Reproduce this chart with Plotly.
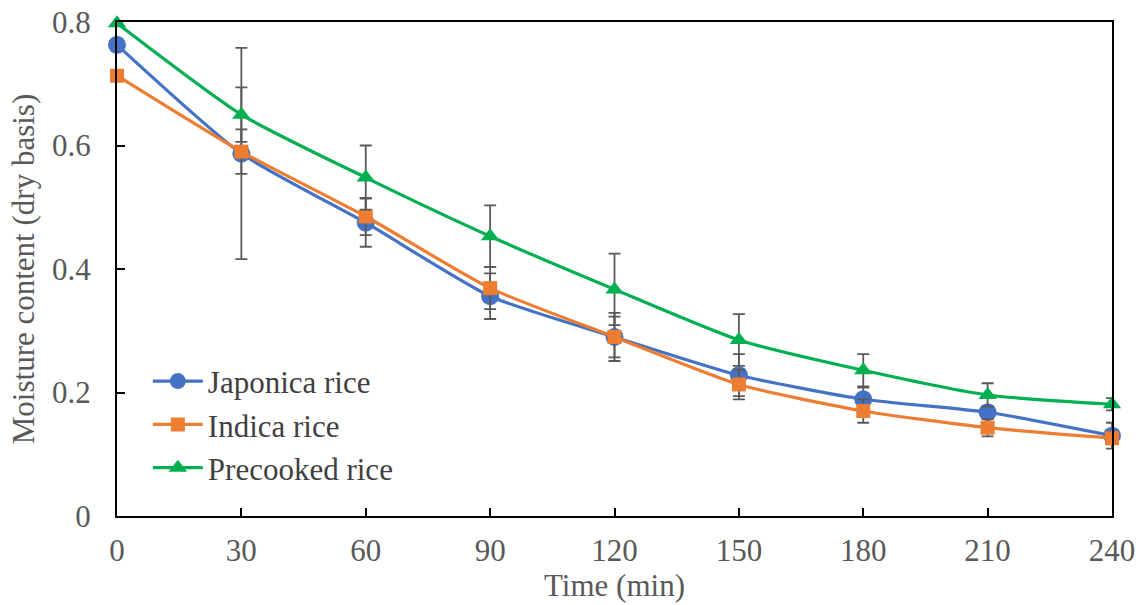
import plotly.graph_objects as go

time_min = [0, 30, 60, 90, 120, 150, 180, 210, 240]
japonica = [0.763, 0.587, 0.475, 0.356, 0.290, 0.228, 0.189, 0.168, 0.130]
japonica_err = [0.0, 0.171, 0.039, 0.037, 0.039, 0.034, 0.019, 0.010, 0.021]
indica = [0.713, 0.590, 0.485, 0.369, 0.290, 0.213, 0.170, 0.143, 0.126]
indica_err = [0.0, 0.036, 0.030, 0.034, 0.033, 0.024, 0.019, 0.014, 0.010]
precooked = [0.798, 0.650, 0.548, 0.453, 0.367, 0.285, 0.236, 0.196, 0.181]
precooked_err = [0.0, 0.044, 0.052, 0.050, 0.058, 0.042, 0.026, 0.019, 0.010]

y_ticks = [0, 0.2, 0.4, 0.6, 0.8]
y_tick_text = ["0", "0.2", "0.4", "0.6", "0.8"]
x_ticks = time_min

series = [
    ("Japonica rice", japonica, japonica_err, "#4472C4", "circle", 18),
    ("Indica rice", indica, indica_err, "#ED7D31", "square", 14),
    ("Precooked rice", precooked, precooked_err, "#00B050", "triangle-up", 16),
]

fig = go.Figure()
for name, vals, errs, color, sym, size in series:
    fig.add_trace(go.Scatter(
        x=time_min, y=vals, name=name, mode="lines+markers",
        line=dict(color=color, width=3.2, shape="spline", smoothing=0.6),
        marker=dict(color=color, symbol=sym, size=size),
        error_y=dict(type="data", array=errs, visible=True,
                     color="#595959", thickness=1.8, width=6),
        cliponaxis=False,
    ))

font_family = "Liberation Serif, Times New Roman, serif"
FS = 31
fig.update_layout(
    width=1141, height=605,
    margin=dict(l=117, r=29, t=22, b=89),
    paper_bgcolor="white", plot_bgcolor="white",
    font=dict(family=font_family, size=FS, color="#595959"),
    showlegend=True,
    legend=dict(x=0.031, y=0.327, xanchor="left", yanchor="top",
                bgcolor="rgba(0,0,0,0)", font=dict(size=FS, color="#404040"),
                tracegroupgap=0, itemwidth=50),
    xaxis=dict(
        range=[0, 240], tickvals=x_ticks, ticks="inside", ticklen=8,
        tickcolor="black", tickwidth=1.5, automargin=False,
        showline=True, linecolor="black", linewidth=2, mirror=True,
        showgrid=False, zeroline=False, ticklabelstandoff=6,
        title=dict(text="Time (min)", font=dict(size=FS, color="#595959"), standoff=0),
        tickfont=dict(size=FS, color="#595959"),
    ),
    yaxis=dict(
        range=[0, 0.8], tickvals=y_ticks, ticktext=y_tick_text,
        ticks="inside", ticklen=8, tickcolor="black", tickwidth=1.5, automargin=False,
        showline=True, linecolor="black", linewidth=2, mirror=True,
        showgrid=False, zeroline=False, ticklabelstandoff=18,
        title=dict(text="Moisture content (dry basis)", font=dict(size=FS, color="#595959"), standoff=8),
        tickfont=dict(size=FS, color="#595959"),
    ),
)

fig.write_html("out.html")
